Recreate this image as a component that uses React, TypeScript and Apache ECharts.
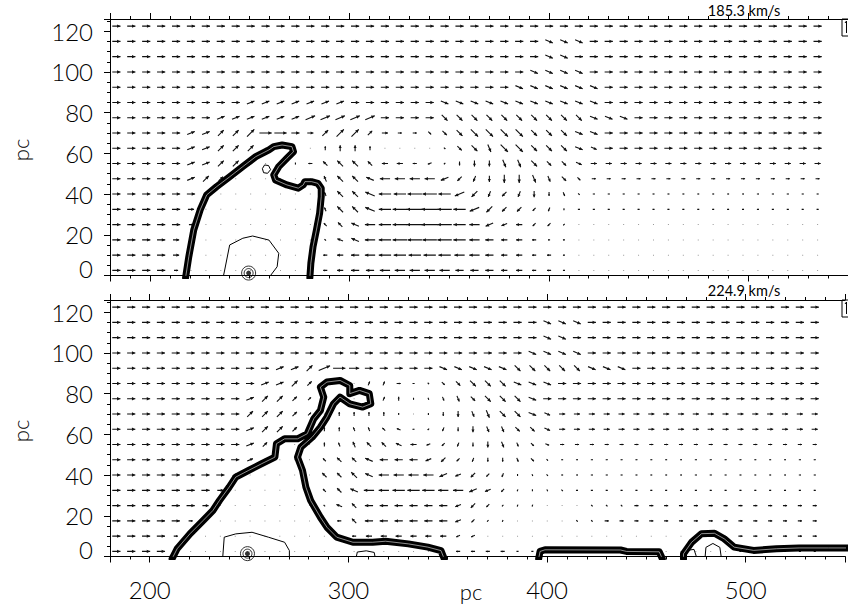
import { useEffect, useRef } from 'react';
import * as echarts from 'echarts';

// ---------- axes ----------
const X_MIN = 180;
const X_MAX = 550;
const Y_MIN = 0;
const Y_MAX = 126;
const X_TICK_LABELS = [200, 300, 400, 500];
const Y_TICK_LABELS = [0, 20, 40, 60, 80, 100, 120];
const PANEL_SPEEDS = ['185.3 km/s', '224.9 km/s'];
const AXIS_TITLE = 'pc';

// ---------- velocity grid (pc) ----------
const X_START = 183.2;
const X_STEP = 7.48;
const ROW_Y = [122.5, 115, 107.5, 100, 92.5, 85, 77.5, 70, 62.5, 55, 47.5, 40, 32.5, 25, 17.5, 10, 2.5];

// token = direction (hex, 16 compass steps, 0=E, 4=N, 8=W, c=S) + magnitude digit; "*n" = repeated n times
const P1_ROWS = [
  '04*48',
  '04*29 f4*3 04*16',
  '04*29 f4*2 04*17',
  '04*28 f4*4 04*16',
  '04*27 f4*6 04*15',
  '04*9 14*7 04*6 f4*11 04*15',
  '04*7 14*6 15*5 04*4 e4*10 f4*3 04*13',
  '04*5 14*2 24*2 25 06*2 04 03 24 25*2 23 03 02*2 e2 e3 e4 e5*4 e4*3 f4*2 04*15',
  '04*5 14*2 24*3 00*4 42 43*2 42 00*4 e1 e3 e4 d4 e5*2 e4*3 f4 f3 04*15',
  '04*5 14*2 24*2 23 00*2 c1 82 63 64*2 63 83*2 82 92 a1 c2 c3*2 d4*2 e4 e3*2 f3 03*16',
  '04*5 14 24 23 00*6 53 64*2 74 85*4 94 a3 b3 c3 c4*2 d4 d3 e3 e2 02*16',
  '04*6 13 00*7 52 64*2 75 86*2 87*2 86 95 a4 b3 a3 b3 c3 c2 d2 e1 01*16',
  '04*5 03 00*8 52 64*2 75 86 87 88*2 87 86 95 a4 a3*2 a2 b2 c1 01*17',
  '04*5 02 00*8 62 63 74 85 86 87 88*2 87 86 85 94 93 83 a2*2 a1 00*17',
  '04*4 03 01 00*8 61 73 74 85 86 87*4 86 85 84 83*2 82 81*2 00*17',
  '04*4 03 01 00*8 82 83 84 85 86*5 85*2 84 83*2 82*2 81 00*17',
  '04*4 02 00*9 82 83 84*2 85*5 84*3 83*2 82*2 81 00*17',
];

const P2_ROWS = [
  '04*48',
  '04*29 f4*3 04*16',
  '04*29 f4*2 04*17',
  '04*28 f4*4 04*16',
  '04*11 14*2 24 16 06 05 04*5 f4*5 e4*5 f4*3 04*13',
  '04*10 14*2 24 23 00*3 32*2 02 01 e1 e2 e3 e4*3 f4*3 04*18',
  '04*9 14 24*2 23 22 00*4 32 42 c1 d1 d2 d3 e3 e4*3 f4 04*19',
  '04*9 24*3 23 22 00 42*4 41 00 c1 c2 c3 d3 d4 e4*2 f4 f3 03*18',
  '04*9 14 24*2 23 00 42*2 52*2 62 72 81 a1 b2 c2 c3 d3*2 e3*2 f3 03*18',
  '04*9 14 23 00*3 42 52 53 63*2 73 83 92 a2 b2 c2 c3 d3 d2 e2 f2 02*18',
  '04*9 13 22 00*3 62 63*2 74 84*3 93 a3 a2 b2 c2*2 d2 e2 e1 01*18',
  '04*8 13 00*5 63*2 64 74 85*4 94 93 a3 a2 b2 c1 d1 e1 01*18',
  '04*7 03 00*6 62 63 74 85*2 86*3 85*2 94 93 a2 b1 c1 d1 e1 01*17',
  '04*6 03 00*7 61 73 63 84*6 93 a3 a2 a1 b1*2 00*3 e1*3 02*13',
  '04*5 02 00*9 82 63 84*6 93 a2 a1 b1 00*4 e1*2 02*15',
  '04*4 02 00*10 81 82 83*6 92*2 00*17 02*6',
  '04*4 01 00*18 82*4 81*2 00*13 01*6',
];

// ---------- contours (pc) ----------
const P1_OUTER = [[217.9, -1], [219.5, 9.2], [222, 22.4], [225.2, 32.2], [228.5, 39.6], [233.4, 43.6], [240, 48.5], [246.6, 53.5], [253.1, 58.4], [259.7, 61.7], [262.1, 63.3], [266.3, 64.1], [271.2, 63.3], [272, 60.8], [268.7, 57.6], [264.6, 53.5], [262.1, 49.4], [263, 46.9], [268.7, 44.5], [274.4, 42.9], [276.9, 44.5], [277.7, 46.1], [281, 46.1], [284.2, 45.3], [285.9, 42.9], [285.9, 38.7], [285.1, 30.6], [283.5, 22.4], [281.8, 14.2], [280.7, 6], [280.2, -1]];
const P1_INNER = [[236.7, -1], [237.5, 2.7], [240, 15], [246.6, 18.3], [251.5, 19.4], [259.7, 17.4], [264.6, 10.9], [263.8, 4.3], [259.7, -1]];
const P1_SMALL = [[256.4, 52.5], [257.5, 54.3], [259.5, 54], [260.5, 52], [259, 50.2], [257, 50.5], [256.4, 52.5]];
const P1_CORE = [[249.5, 1.2]];

const P2_OUTER = [[211.3, -1], [213.8, 3.8], [220.3, 11.2], [226.9, 17.7], [231.8, 22.6], [235.1, 27.5], [240, 34.1], [243.3, 39], [249.8, 42.3], [256.4, 45.6], [263, 48.8], [263.8, 55.4], [267.9, 57.8], [274.4, 57.8], [279.3, 60.3], [282.6, 67.7], [285.9, 71.7], [287.6, 78.3], [285.9, 83.2], [289.2, 85.7], [295.8, 86.5], [300.7, 84], [300.7, 80], [305.6, 81.6], [310.5, 80], [311.3, 75], [307.2, 73.4], [300.7, 75], [295.8, 78.3], [292.5, 75], [289.2, 68.5], [285.9, 63.5], [281.8, 58.6], [276.1, 53.7], [274.4, 48.8], [276.9, 42.3], [278.6, 34.1], [281, 27.5], [285.9, 19.3], [289.2, 14.4], [294.1, 9.5], [302.3, 7], [312.2, 7], [318.7, 7.5], [330.2, 6.2], [340, 4.6], [346.6, 2.9], [348.2, -1]];
const P2_INNER = [[236.7, -1], [237.5, 9.5], [243.3, 11.1], [251.5, 11.9], [259.7, 9.5], [267.9, 7], [270.3, 2.9], [270.3, -1]];
const P2_SMALL_A = [[303.8, -1], [304.5, 2.2], [309, 2.8], [313, 2], [313.6, -1]];
const P2_SMALL_B = [[479.5, -1], [480, 4.5], [483.5, 6.4], [487, 4.5], [487.8, -1]];
const P2_SMALL_C = [[470, -1], [470.5, 3], [474, 3.5], [475.5, -1]];
const P2_FLAT = [[395.8, -1], [396.5, 2.5], [399, 3.3], [437, 3.2], [440, 2.5], [456.5, 2.3], [458, -1]];
const P2_HUMP = [[468.7, -1], [468.7, 1.3], [472.8, 7], [477.8, 11.2], [484.3, 11.4], [489.2, 8.7], [494.2, 4.6], [504, 3], [515.5, 3.8], [526.9, 4.2], [541.7, 4.2], [560, 4.2]];
const P2_CORE = [[249.2, 1.4]];

const FONT = 'Lato';
const DIRS = '0123456789abcdef';

function expandRow(row: string): [number, number][] {
  const out: [number, number][] = [];
  for (const tok of row.trim().split(/\s+/)) {
    const [code, rep] = tok.split('*');
    const n = rep ? parseInt(rep, 10) : 1;
    const d = DIRS.indexOf(code[0]);
    const m = parseInt(code[1], 10);
    for (let i = 0; i < n; i++) out.push([d, m]);
  }
  return out;
}

function fieldData(rows: string[]) {
  const data: number[][] = [];
  rows.forEach((row, r) => {
    expandRow(row).forEach(([d, m], c) => {
      data.push([X_START + c * X_STEP, ROW_Y[r], d, m]);
    });
  });
  return data;
}

const renderArrow = (_params: any, api: any) => {
  const x = api.value(0);
  const y = api.value(1);
  const d = api.value(2);
  const m = api.value(3);
  const c = api.coord([x, y]);
  if (m === 0) {
    return { type: 'rect', shape: { x: c[0] - 0.5, y: c[1] - 0.5, width: 1, height: 1 }, style: { fill: '#999' } };
  }
  const ang = (d * Math.PI) / 8;
  const L = m * 2.05;
  const ux = Math.cos(ang);
  const uy = -Math.sin(ang);
  const x0 = c[0] - (ux * L) / 2;
  const y0 = c[1] - (uy * L) / 2;
  const x1 = c[0] + (ux * L) / 2;
  const y1 = c[1] + (uy * L) / 2;
  const hl = Math.min(3.4, L * 0.45);
  const hw = Math.min(1.7, L * 0.25);
  const bx = x1 - ux * hl;
  const by = y1 - uy * hl;
  const px = -uy;
  const py = ux;
  return {
    type: 'group',
    children: [
      { type: 'line', shape: { x1: x0, y1: y0, x2: x1, y2: y1 }, style: { stroke: '#111', lineWidth: 1.1 } },
      {
        type: 'polygon',
        shape: { points: [[x1, y1], [bx + px * hw, by + py * hw], [bx - px * hw, by - py * hw]] },
        style: { fill: '#111' },
      },
    ],
  };
};

function makeAxes(g: number, showXLabels: boolean) {
  const line = { show: true, lineStyle: { color: '#000', width: 1 } };
  const labelStyle = { color: '#000', fontFamily: FONT, fontWeight: 300 as any, fontSize: 24 };
  const xMajor = (pos: string, labels: boolean) => ({
    gridIndex: g,
    type: 'value',
    position: pos,
    min: X_MIN,
    max: X_MAX,
    minInterval: 100,
    maxInterval: 100,
    axisLine: line,
    axisTick: { show: true, length: 6, lineStyle: { color: '#000' } },
    axisLabel: {
      show: labels,
      margin: 21,
      ...labelStyle,
      formatter: (v: number) => (X_TICK_LABELS.includes(v) ? String(v) : ''),
    },
    splitLine: { show: false },
  });
  const xMinor = (pos: string) => ({
    gridIndex: g,
    type: 'value',
    position: pos,
    min: X_MIN,
    max: X_MAX,
    interval: 10,
    axisLine: { show: false },
    axisTick: { show: true, length: 3, lineStyle: { color: '#000' } },
    axisLabel: { show: false },
    splitLine: { show: false },
  });
  const xAxes = [xMajor('bottom', showXLabels), xMinor('bottom'), xMajor('top', false), xMinor('top')];
  const yAxes = [
    {
      gridIndex: g,
      type: 'value',
      position: 'left',
      min: Y_MIN,
      max: Y_MAX,
      interval: 20,
      axisLine: line,
      axisTick: { show: true, length: 6, lineStyle: { color: '#000' } },
      axisLabel: {
        margin: 17,
        ...labelStyle,
        formatter: (v: number) => (v === 0 ? '{z|0}' : Y_TICK_LABELS.includes(v) ? String(v) : ''),
        rich: { z: { ...labelStyle, padding: [0, 0, 14, 0] } },
      },
      splitLine: { show: false },
    },
    {
      gridIndex: g,
      type: 'value',
      position: 'left',
      min: Y_MIN,
      max: Y_MAX,
      interval: 5,
      axisLine: { show: false },
      axisTick: { show: true, length: 3, lineStyle: { color: '#000' } },
      axisLabel: { show: false },
      splitLine: { show: false },
    },
  ];
  return { xAxes, yAxes };
}

function contourSeries(g: number, bands: number[][][], thins: number[][][], cores: number[][]) {
  const base = { type: 'line', xAxisIndex: 4 * g, yAxisIndex: 2 * g, symbol: 'none', silent: true, clip: true };
  const s: any[] = [];
  bands.forEach((pts) => {
    s.push({ ...base, data: pts, z: 3, lineStyle: { color: '#000', width: 7, join: 'round', cap: 'round' } });
    s.push({ ...base, data: pts, z: 4, lineStyle: { color: '#fff', width: 0.7, opacity: 0.8 } });
  });
  thins.forEach((pts) => {
    s.push({ ...base, data: pts, z: 3, lineStyle: { color: '#000', width: 1 } });
  });
  const sc = { type: 'scatter', xAxisIndex: 4 * g, yAxisIndex: 2 * g, silent: true, data: cores, z: 5 };
  s.push({ ...sc, symbolSize: 14, itemStyle: { color: 'rgba(0,0,0,0)', borderColor: '#000', borderWidth: 1 } });
  s.push({ ...sc, symbolSize: 9, itemStyle: { color: 'rgba(0,0,0,0)', borderColor: '#000', borderWidth: 1 } });
  s.push({ ...sc, symbolSize: 5, itemStyle: { color: '#000' } });
  return s;
}

export default function App() {
  const ref = useRef<HTMLDivElement>(null);
  useEffect(() => {
    if (!ref.current) return;
    const chart = echarts.init(ref.current, undefined, { renderer: 'svg' });
    const a0 = makeAxes(0, false);
    const a1 = makeAxes(1, true);
    const txt = (x: number, y: number, text: string, fontSize: number, weight: number, rot = 0) => ({
      type: 'text',
      x,
      y,
      rotation: rot,
      style: {
        fontFamily: FONT,
        fontWeight: weight,
        fill: '#000',
        text,
        fontSize,
        textAlign: 'center',
        textVerticalAlign: 'middle',
        align: 'center',
        verticalAlign: 'middle',
      },
    });
    const option: any = {
      animation: false,
      backgroundColor: '#fff',
      grid: [
        { left: 110, top: 19, width: 752, height: 256.5 },
        { left: 110, top: 300, width: 752, height: 256.5 },
      ],
      xAxis: [...a0.xAxes, ...a1.xAxes],
      yAxis: [...a0.yAxes, ...a1.yAxes],
      series: [
        { type: 'custom', xAxisIndex: 0, yAxisIndex: 0, data: fieldData(P1_ROWS), renderItem: renderArrow, encode: { x: 0, y: 1 }, silent: true, clip: true, z: 2 },
        { type: 'custom', xAxisIndex: 4, yAxisIndex: 2, data: fieldData(P2_ROWS), renderItem: renderArrow, encode: { x: 0, y: 1 }, silent: true, clip: true, z: 2 },
        ...contourSeries(0, [P1_OUTER], [P1_INNER, P1_SMALL], P1_CORE),
        ...contourSeries(1, [P2_OUTER, P2_FLAT, P2_HUMP], [P2_INNER, P2_SMALL_A, P2_SMALL_B, P2_SMALL_C], P2_CORE),
      ],
      graphic: [
        txt(20, 150, AXIS_TITLE, 22, 300, Math.PI / 2),
        txt(20, 431, AXIS_TITLE, 22, 300, Math.PI / 2),
        txt(471, 591, AXIS_TITLE, 22, 300),
        txt(744, 10, PANEL_SPEEDS[0], 14.5, 400),
        txt(744, 290, PANEL_SPEEDS[1], 14.5, 400),
        { type: 'rect', shape: { x: 842, y: 19, width: 12, height: 17 }, style: { fill: '#fff', stroke: '#000', lineWidth: 1 } },
        { type: 'polyline', shape: { points: [[845, 23], [846.5, 21], [846.5, 33]] }, style: { stroke: '#000', lineWidth: 1, fill: 'none' } },
        { type: 'rect', shape: { x: 842, y: 300, width: 12, height: 17 }, style: { fill: '#fff', stroke: '#000', lineWidth: 1 } },
        { type: 'polyline', shape: { points: [[845, 304], [846.5, 302], [846.5, 314]] }, style: { stroke: '#000', lineWidth: 1, fill: 'none' } },
      ],
    };
    chart.setOption(option);
    return () => chart.dispose();
  }, []);
  return <div ref={ref} style={{ position: 'absolute', left: 0, top: 0, width: 848, height: 604, background: '#fff' }} />;
}
